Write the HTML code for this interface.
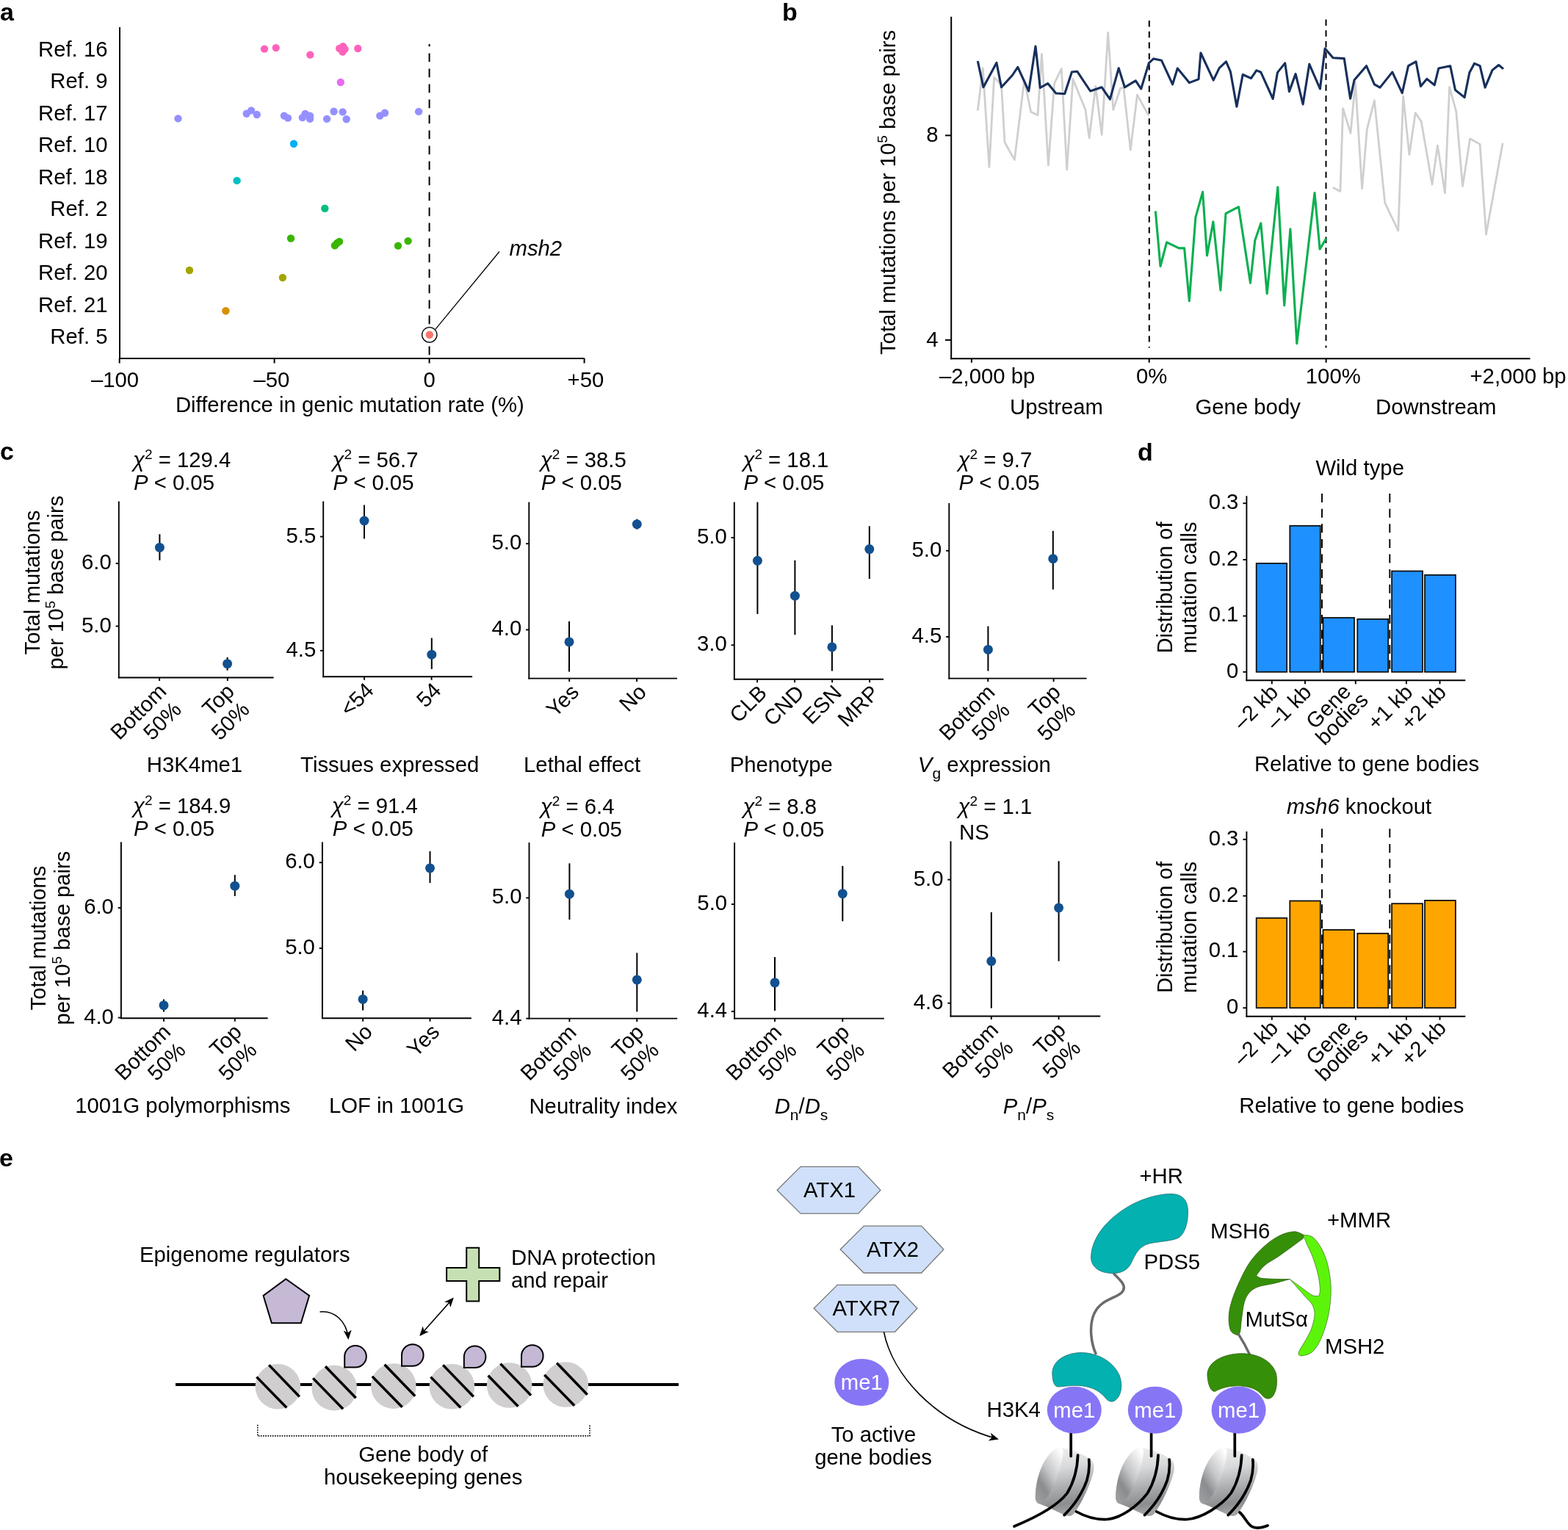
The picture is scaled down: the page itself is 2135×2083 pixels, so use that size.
<!DOCTYPE html>
<html><head><meta charset="utf-8"><title>Figure</title>
<style>
html,body{margin:0;padding:0;background:#fff;}
svg{display:block;}
text{font-family:"Liberation Sans",sans-serif;font-size:29.3px;fill:#000;}
text.pl{font-weight:bold;font-size:34px;}
</style></head>
<body>
<svg width="2135" height="2083" viewBox="0 0 2135 2083">
<rect width="2135" height="2083" fill="#fff"/>
<text x="0" y="28" class="pl">a</text>
<text x="1065" y="28" class="pl">b</text>
<text x="0" y="626" class="pl">c</text>
<text x="1549" y="627" class="pl">d</text>
<text x="-1" y="1588" class="pl">e</text>
<line x1="163" y1="37" x2="163" y2="489" stroke="#000" stroke-width="2.0" />
<line x1="162" y1="488" x2="795.8" y2="488" stroke="#000" stroke-width="2.0" />
<line x1="162.7" y1="488" x2="162.7" y2="494.5" stroke="#000" stroke-width="2.0" />
<line x1="373.6" y1="488" x2="373.6" y2="494.5" stroke="#000" stroke-width="2.0" />
<line x1="584.6" y1="488" x2="584.6" y2="494.5" stroke="#000" stroke-width="2.0" />
<line x1="795.6" y1="488" x2="795.6" y2="494.5" stroke="#000" stroke-width="2.0" />
<text x="156.5" y="527.3" text-anchor="middle" >&#8211;100</text>
<text x="369.8" y="527.3" text-anchor="middle" >&#8211;50</text>
<text x="584.6" y="527.3" text-anchor="middle" >0</text>
<text x="797.4" y="527.3" text-anchor="middle" >+50</text>
<text x="476.4" y="560.8" text-anchor="middle" >Difference in genic mutation rate (%)</text>
<line x1="584.6" y1="60" x2="584.6" y2="488" stroke="#000" stroke-width="2.0" stroke-dasharray="11.8,9.2" stroke-dashoffset="8.5"/>
<text x="146.5" y="76.6" text-anchor="end" >Ref. 16</text>
<text x="146.5" y="120.1" text-anchor="end" >Ref. 9</text>
<text x="146.5" y="163.7" text-anchor="end" >Ref. 17</text>
<text x="146.5" y="207.2" text-anchor="end" >Ref. 10</text>
<text x="146.5" y="250.7" text-anchor="end" >Ref. 18</text>
<text x="146.5" y="294.2" text-anchor="end" >Ref. 2</text>
<text x="146.5" y="337.8" text-anchor="end" >Ref. 19</text>
<text x="146.5" y="381.3" text-anchor="end" >Ref. 20</text>
<text x="146.5" y="424.8" text-anchor="end" >Ref. 21</text>
<text x="146.5" y="468.4" text-anchor="end" >Ref. 5</text>
<circle cx="584.8" cy="455.8" r="10.2" fill="#fff" stroke="#000" stroke-width="1.3"/>
<circle cx="360" cy="66.6" r="5.2" fill="#FF62BC" />
<circle cx="375.7" cy="65.1" r="5.2" fill="#FF62BC" />
<circle cx="422.3" cy="74.6" r="5.2" fill="#FF62BC" />
<circle cx="462.2" cy="66" r="5.2" fill="#FF62BC" />
<circle cx="467.1" cy="63.2" r="5.2" fill="#FF62BC" />
<circle cx="469.5" cy="66.9" r="5.2" fill="#FF62BC" />
<circle cx="466.5" cy="70.6" r="5.2" fill="#FF62BC" />
<circle cx="487.3" cy="66" r="5.2" fill="#FF62BC" />
<circle cx="463.8" cy="112" r="5.2" fill="#E76BF3" />
<circle cx="242.5" cy="161.4" r="5.2" fill="#9590FF" />
<circle cx="335.7" cy="154.7" r="5.2" fill="#9590FF" />
<circle cx="342.1" cy="150.4" r="5.2" fill="#9590FF" />
<circle cx="349.8" cy="156" r="5.2" fill="#9590FF" />
<circle cx="386.9" cy="157.6" r="5.2" fill="#9590FF" />
<circle cx="392" cy="160.6" r="5.2" fill="#9590FF" />
<circle cx="411.8" cy="160.1" r="5.2" fill="#9590FF" />
<circle cx="415.6" cy="155" r="5.2" fill="#9590FF" />
<circle cx="422" cy="157.6" r="5.2" fill="#9590FF" />
<circle cx="422" cy="161.9" r="5.2" fill="#9590FF" />
<circle cx="445.1" cy="161.9" r="5.2" fill="#9590FF" />
<circle cx="454.6" cy="151.7" r="5.2" fill="#9590FF" />
<circle cx="466.6" cy="152.4" r="5.2" fill="#9590FF" />
<circle cx="471.7" cy="162.2" r="5.2" fill="#9590FF" />
<circle cx="517.3" cy="157.6" r="5.2" fill="#9590FF" />
<circle cx="524" cy="153.7" r="5.2" fill="#9590FF" />
<circle cx="570.1" cy="151.9" r="5.2" fill="#9590FF" />
<circle cx="400" cy="195.7" r="5.2" fill="#00B0F6" />
<circle cx="322.6" cy="245.9" r="5.2" fill="#00BFC4" />
<circle cx="442.3" cy="283.7" r="5.2" fill="#00BF7D" />
<circle cx="396" cy="324.5" r="5.2" fill="#39B600" />
<circle cx="455.9" cy="334.2" r="5.2" fill="#39B600" />
<circle cx="459" cy="331" r="5.2" fill="#39B600" />
<circle cx="462" cy="328.9" r="5.2" fill="#39B600" />
<circle cx="542" cy="334.6" r="5.2" fill="#39B600" />
<circle cx="555.6" cy="328.1" r="5.2" fill="#39B600" />
<circle cx="258" cy="368" r="5.2" fill="#A3A500" />
<circle cx="384.9" cy="378" r="5.2" fill="#A3A500" />
<circle cx="307.4" cy="423.2" r="5.2" fill="#D89000" />
<circle cx="584.8" cy="455.8" r="5.2" fill="#F8766D" />
<line x1="592.6" y1="448.6" x2="680" y2="342.5" stroke="#000" stroke-width="1.3" />
<text x="693.5" y="348" font-style="italic">msh2</text>
<line x1="1295.2" y1="22.8" x2="1295.2" y2="489.2" stroke="#000" stroke-width="2.0" />
<line x1="1294.2" y1="488.2" x2="2083.5" y2="488.2" stroke="#000" stroke-width="2.0" />
<line x1="1287" y1="184.4" x2="1295.2" y2="184.4" stroke="#000" stroke-width="2.0" />
<line x1="1287" y1="462.9" x2="1295.2" y2="462.9" stroke="#000" stroke-width="2.0" />
<text x="1277.5" y="193" text-anchor="end" >8</text>
<text x="1277.5" y="471.5" text-anchor="end" >4</text>
<line x1="1322.9" y1="488.2" x2="1322.9" y2="493.7" stroke="#000" stroke-width="2.0" />
<line x1="1564.7" y1="488.2" x2="1564.7" y2="493.7" stroke="#000" stroke-width="2.0" />
<line x1="1805.6" y1="488.2" x2="1805.6" y2="493.7" stroke="#000" stroke-width="2.0" />
<text x="1279" y="521.8" >&#8211;2,000 bp</text>
<text x="1547" y="521.8" >0%</text>
<text x="1777.8" y="521.8" >100%</text>
<text x="2001.5" y="521.8" >+2,000 bp</text>
<text x="1375" y="564.3" >Upstream</text>
<text x="1627.5" y="564.3" >Gene body</text>
<text x="1873" y="564.3" >Downstream</text>
<text transform="translate(1218.8,262.0) rotate(-90)" text-anchor="middle">Total mutations per 10<tspan font-size="19" dy="-11">5</tspan><tspan dy="11"> base pairs</tspan></text>
<line x1="1564.8" y1="28" x2="1564.8" y2="473.5" stroke="#000" stroke-width="2.0" stroke-dasharray="8.4,6.4"/>
<line x1="1805.5" y1="26.5" x2="1805.5" y2="473.5" stroke="#000" stroke-width="2.0" stroke-dasharray="8.4,6.4"/>
<polyline points="1331.3,150.7 1338.3,92.8 1346.9,227.3 1353.6,105.4 1363.5,115.1 1368,193.8 1381.4,217.6 1394.7,109.1 1403.7,152.2 1413,156.7 1418.5,73.5 1427.4,225 1435.6,113.6 1445.3,93.5 1452.7,231 1460.9,107.7 1477.9,149.3 1483.1,187.9 1491.8,117.3 1500.2,183.4 1508.7,44.5 1515.8,149.3 1525.5,120.3 1529.9,118.8 1539.3,204.2 1548.5,129.2 1564.1,157.4" fill="none" stroke="#CFCFCF" stroke-width="2.8" stroke-linejoin="round" />
<polyline points="1814.8,255.2 1824.9,260.6 1828.6,147.7 1839,181.3 1845.4,111.6 1854.6,256.9 1861.3,176.2 1871.4,136.8 1885.7,276.2 1903.8,314 1910.6,130.9 1918.9,210.7 1927.2,153.6 1935.2,165.3 1950,251 1957.4,198.1 1967.5,262.8 1973.6,118.3 1982.8,151.9 1991.5,253.5 2001.6,188.8 2015.1,196.4 2023.5,319.1 2046.1,194.7" fill="none" stroke="#CFCFCF" stroke-width="2.8" stroke-linejoin="round" />
<polyline points="1331.3,83.1 1339,118.8 1356.9,85.4 1363.5,118.8 1378.4,102.5 1385.8,91.3 1400.7,124 1410,63.1 1416.3,119.5 1426.7,113.6 1437.8,127 1449.7,127.7 1459.4,98 1466.8,97.3 1484.6,124 1500.2,118.8 1511.4,135.1 1523.2,92.8 1531.4,118.8 1546.3,109.9 1553.7,121 1564.3,85.9 1570.7,79.9 1581.6,82.3 1596.6,114.8 1603.3,93 1619.3,112.6 1632,107.9 1634.9,72 1652.2,109.2 1660.2,92.6 1669.5,83.9 1675.5,97.9 1683.9,145.2 1692.2,101.5 1703.5,106.6 1710.8,95.9 1716.8,98.3 1733.2,134.5 1739.5,98.6 1749.7,85.9 1755.4,124.6 1764.1,100.6 1774.1,141.9 1782.8,87.3 1797.4,121 1804.1,66 1815.1,78.8 1830.2,79.6 1838.6,134.2 1844,109 1860.5,89.7 1871.4,114.9 1879,119.1 1895.8,98.1 1909.2,126.7 1917.6,89.7 1928,83.8 1934.4,117.4 1942.8,107.4 1953.2,115.8 1958.8,93.1 1974.7,89.7 1981.5,122.5 1994.1,132.6 2000.8,99 2007.5,86.4 2015.1,89.7 2022.1,119.1 2031.9,95.6 2040.6,88.5 2047,93.9" fill="none" stroke="#172F5B" stroke-width="3.1" stroke-linejoin="round" />
<polyline points="1573.3,287.3 1580,362.5 1588.6,329.9 1605.3,337.9 1612.6,337.9 1619.3,409.8 1627.9,295.9 1637.6,261.3 1643.5,347.9 1651.9,301.9 1661.9,395.2 1669,290.6 1686.5,281.6 1702.5,385.2 1708.8,327.2 1716.8,303.9 1725.2,399.8 1739.8,254.7 1748.7,415.8 1756.9,311.9 1765.8,467.8 1790,262.6 1797.1,339.2 1805.7,324.6" fill="none" stroke="#0BAF50" stroke-width="3.1" stroke-linejoin="round" />
<line x1="161.8" y1="682.5" x2="161.8" y2="923.4" stroke="#000" stroke-width="1.9" />
<line x1="160.9" y1="922.5" x2="372.6" y2="922.5" stroke="#000" stroke-width="1.9" />
<line x1="157.6" y1="767.1" x2="161.8" y2="767.1" stroke="#000" stroke-width="1.9" />
<text x="151.8" y="775.1" text-anchor="end" >6.0</text>
<line x1="157.6" y1="852.5" x2="161.8" y2="852.5" stroke="#000" stroke-width="1.9" />
<text x="151.8" y="860.5" text-anchor="end" >5.0</text>
<line x1="217.1" y1="922.5" x2="217.1" y2="927" stroke="#000" stroke-width="1.9" />
<line x1="309.8" y1="922.5" x2="309.8" y2="927" stroke="#000" stroke-width="1.9" />
<line x1="217.4" y1="727.3" x2="217.4" y2="762.8" stroke="#000" stroke-width="2.0" />
<circle cx="217.4" cy="745.4" r="6.5" fill="#12508F" />
<line x1="309.6" y1="894.8" x2="309.6" y2="912.7" stroke="#000" stroke-width="2.0" />
<circle cx="309.6" cy="903.7" r="6.5" fill="#12508F" />
<text transform="translate(228.2,943.1) rotate(-45)" text-anchor="end">Bottom</text>
<text transform="translate(248.6,967.8) rotate(-45)" text-anchor="end">50%</text>
<text transform="translate(320.9,943.1) rotate(-45)" text-anchor="end">Top</text>
<text transform="translate(341.3,967.8) rotate(-45)" text-anchor="end">50%</text>
<text x="181" y="636.3"><tspan font-style="italic">&#967;</tspan><tspan font-size="19" dy="-11">2</tspan><tspan dy="11"> = 129.4</tspan></text>
<text x="182" y="666.6"><tspan font-style="italic">P</tspan> &lt; 0.05</text>
<text x="265" y="1050.7" text-anchor="middle">H3K4me1</text>
<line x1="440.2" y1="682.5" x2="440.2" y2="922.2" stroke="#000" stroke-width="1.9" />
<line x1="439.3" y1="921.3" x2="643.1" y2="921.3" stroke="#000" stroke-width="1.9" />
<line x1="436" y1="730.6" x2="440.2" y2="730.6" stroke="#000" stroke-width="1.9" />
<text x="430.2" y="738.6" text-anchor="end" >5.5</text>
<line x1="436" y1="885.8" x2="440.2" y2="885.8" stroke="#000" stroke-width="1.9" />
<text x="430.2" y="893.8" text-anchor="end" >4.5</text>
<line x1="496" y1="921.3" x2="496" y2="925.8" stroke="#000" stroke-width="1.9" />
<line x1="587.6" y1="921.3" x2="587.6" y2="925.8" stroke="#000" stroke-width="1.9" />
<line x1="496" y1="687.5" x2="496" y2="733.4" stroke="#000" stroke-width="2.0" />
<circle cx="496" cy="709" r="6.5" fill="#12508F" />
<line x1="587.8" y1="868.6" x2="587.8" y2="910.9" stroke="#000" stroke-width="2.0" />
<circle cx="587.8" cy="891.2" r="6.5" fill="#12508F" />
<text transform="translate(510.6,941.7) rotate(-45)" text-anchor="end">&lt;54</text>
<text transform="translate(602.2,941.7) rotate(-45)" text-anchor="end">54</text>
<text x="452.5" y="636.3"><tspan font-style="italic">&#967;</tspan><tspan font-size="19" dy="-11">2</tspan><tspan dy="11"> = 56.7</tspan></text>
<text x="453.5" y="666.6"><tspan font-style="italic">P</tspan> &lt; 0.05</text>
<text x="530.7" y="1050.7" text-anchor="middle">Tissues expressed</text>
<line x1="720.3" y1="683.6" x2="720.3" y2="924.5" stroke="#000" stroke-width="1.9" />
<line x1="719.4" y1="923.6" x2="922" y2="923.6" stroke="#000" stroke-width="1.9" />
<line x1="716.1" y1="740.2" x2="720.3" y2="740.2" stroke="#000" stroke-width="1.9" />
<text x="710.3" y="748.2" text-anchor="end" >5.0</text>
<line x1="716.1" y1="857.4" x2="720.3" y2="857.4" stroke="#000" stroke-width="1.9" />
<text x="710.3" y="865.4" text-anchor="end" >4.0</text>
<line x1="775.2" y1="923.6" x2="775.2" y2="928.1" stroke="#000" stroke-width="1.9" />
<line x1="867.1" y1="923.6" x2="867.1" y2="928.1" stroke="#000" stroke-width="1.9" />
<line x1="775" y1="846" x2="775" y2="914.4" stroke="#000" stroke-width="2.0" />
<circle cx="775" cy="873.9" r="6.5" fill="#12508F" />
<line x1="867.3" y1="706.7" x2="867.3" y2="720.6" stroke="#000" stroke-width="2.0" />
<circle cx="867.3" cy="713.7" r="6.5" fill="#12508F" />
<text transform="translate(789.8,944) rotate(-45)" text-anchor="end">Yes</text>
<text transform="translate(881.7,944) rotate(-45)" text-anchor="end">No</text>
<text x="735.8" y="636.3"><tspan font-style="italic">&#967;</tspan><tspan font-size="19" dy="-11">2</tspan><tspan dy="11"> = 38.5</tspan></text>
<text x="736.8" y="666.6"><tspan font-style="italic">P</tspan> &lt; 0.05</text>
<text x="792.6" y="1050.7" text-anchor="middle">Lethal effect</text>
<line x1="999.8" y1="683.6" x2="999.8" y2="925.6" stroke="#000" stroke-width="1.9" />
<line x1="998.9" y1="924.7" x2="1203" y2="924.7" stroke="#000" stroke-width="1.9" />
<line x1="995.6" y1="732" x2="999.8" y2="732" stroke="#000" stroke-width="1.9" />
<text x="989.8" y="740" text-anchor="end" >5.0</text>
<line x1="995.6" y1="878.3" x2="999.8" y2="878.3" stroke="#000" stroke-width="1.9" />
<text x="989.8" y="886.3" text-anchor="end" >3.0</text>
<line x1="1031.1" y1="924.7" x2="1031.1" y2="929.2" stroke="#000" stroke-width="1.9" />
<line x1="1082.1" y1="924.7" x2="1082.1" y2="929.2" stroke="#000" stroke-width="1.9" />
<line x1="1133.1" y1="924.7" x2="1133.1" y2="929.2" stroke="#000" stroke-width="1.9" />
<line x1="1184.1" y1="924.7" x2="1184.1" y2="929.2" stroke="#000" stroke-width="1.9" />
<line x1="1031.4" y1="683.6" x2="1031.4" y2="836" stroke="#000" stroke-width="2.0" />
<circle cx="1031.4" cy="763.3" r="6.5" fill="#12508F" />
<line x1="1082.4" y1="762.9" x2="1082.4" y2="864.3" stroke="#000" stroke-width="2.0" />
<circle cx="1082.4" cy="811.2" r="6.5" fill="#12508F" />
<line x1="1132.9" y1="851.3" x2="1132.9" y2="913.5" stroke="#000" stroke-width="2.0" />
<circle cx="1132.9" cy="880.9" r="6.5" fill="#12508F" />
<line x1="1183.8" y1="716.3" x2="1183.8" y2="788.1" stroke="#000" stroke-width="2.0" />
<circle cx="1183.8" cy="747.6" r="6.5" fill="#12508F" />
<text transform="translate(1045.7,945.1) rotate(-45)" text-anchor="end">CLB</text>
<text transform="translate(1096.7,945.1) rotate(-45)" text-anchor="end">CND</text>
<text transform="translate(1147.7,945.1) rotate(-45)" text-anchor="end">ESN</text>
<text transform="translate(1198.7,945.1) rotate(-45)" text-anchor="end">MRP</text>
<text x="1011.4" y="636.3"><tspan font-style="italic">&#967;</tspan><tspan font-size="19" dy="-11">2</tspan><tspan dy="11"> = 18.1</tspan></text>
<text x="1012.4" y="666.6"><tspan font-style="italic">P</tspan> &lt; 0.05</text>
<text x="1063.7" y="1050.7" text-anchor="middle">Phenotype</text>
<line x1="1292.3" y1="685" x2="1292.3" y2="924.5" stroke="#000" stroke-width="1.9" />
<line x1="1291.4" y1="923.6" x2="1479.6" y2="923.6" stroke="#000" stroke-width="1.9" />
<line x1="1288.1" y1="749.8" x2="1292.3" y2="749.8" stroke="#000" stroke-width="1.9" />
<text x="1282.3" y="757.8" text-anchor="end" >5.0</text>
<line x1="1288.1" y1="867" x2="1292.3" y2="867" stroke="#000" stroke-width="1.9" />
<text x="1282.3" y="875" text-anchor="end" >4.5</text>
<line x1="1345.2" y1="923.6" x2="1345.2" y2="928.1" stroke="#000" stroke-width="1.9" />
<line x1="1434.6" y1="923.6" x2="1434.6" y2="928.1" stroke="#000" stroke-width="1.9" />
<line x1="1345.4" y1="852.6" x2="1345.4" y2="913.5" stroke="#000" stroke-width="2.0" />
<circle cx="1345.4" cy="884.4" r="6.5" fill="#12508F" />
<line x1="1433.8" y1="722.8" x2="1433.8" y2="802.5" stroke="#000" stroke-width="2.0" />
<circle cx="1433.8" cy="760.7" r="6.5" fill="#12508F" />
<text transform="translate(1356.3,944.2) rotate(-45)" text-anchor="end">Bottom</text>
<text transform="translate(1376.7,968.9) rotate(-45)" text-anchor="end">50%</text>
<text transform="translate(1445.7,944.2) rotate(-45)" text-anchor="end">Top</text>
<text transform="translate(1466.1,968.9) rotate(-45)" text-anchor="end">50%</text>
<text x="1304.5" y="636.3"><tspan font-style="italic">&#967;</tspan><tspan font-size="19" dy="-11">2</tspan><tspan dy="11"> = 9.7</tspan></text>
<text x="1305.5" y="666.6"><tspan font-style="italic">P</tspan> &lt; 0.05</text>
<text x="1340.4" y="1050.7" text-anchor="middle"><tspan font-style="italic">V</tspan><tspan font-size="21" dy="9">g</tspan><tspan dy="-9"> expression</tspan></text>
<line x1="164.9" y1="1146.4" x2="164.9" y2="1387.1" stroke="#000" stroke-width="1.9" />
<line x1="164" y1="1386.2" x2="364.6" y2="1386.2" stroke="#000" stroke-width="1.9" />
<line x1="160.7" y1="1236" x2="164.9" y2="1236" stroke="#000" stroke-width="1.9" />
<text x="154.9" y="1244" text-anchor="end" >6.0</text>
<line x1="160.7" y1="1385.5" x2="164.9" y2="1385.5" stroke="#000" stroke-width="1.9" />
<text x="154.9" y="1393.5" text-anchor="end" >4.0</text>
<line x1="223" y1="1386.2" x2="223" y2="1390.7" stroke="#000" stroke-width="1.9" />
<line x1="319.8" y1="1386.2" x2="319.8" y2="1390.7" stroke="#000" stroke-width="1.9" />
<line x1="223" y1="1360.4" x2="223" y2="1377.6" stroke="#000" stroke-width="2.0" />
<circle cx="223" cy="1368.7" r="6.5" fill="#12508F" />
<line x1="319.8" y1="1191.2" x2="319.8" y2="1219.9" stroke="#000" stroke-width="2.0" />
<circle cx="319.8" cy="1206.2" r="6.5" fill="#12508F" />
<text transform="translate(234.1,1406.8) rotate(-45)" text-anchor="end">Bottom</text>
<text transform="translate(254.5,1431.5) rotate(-45)" text-anchor="end">50%</text>
<text transform="translate(330.9,1406.8) rotate(-45)" text-anchor="end">Top</text>
<text transform="translate(351.3,1431.5) rotate(-45)" text-anchor="end">50%</text>
<text x="181" y="1106.9"><tspan font-style="italic">&#967;</tspan><tspan font-size="19" dy="-11">2</tspan><tspan dy="11"> = 184.9</tspan></text>
<text x="182" y="1138.1"><tspan font-style="italic">P</tspan> &lt; 0.05</text>
<text x="248.8" y="1514.6" text-anchor="middle">1001G polymorphisms</text>
<line x1="438.9" y1="1146.4" x2="438.9" y2="1387.1" stroke="#000" stroke-width="1.9" />
<line x1="438" y1="1386.2" x2="641.8" y2="1386.2" stroke="#000" stroke-width="1.9" />
<line x1="434.7" y1="1174.3" x2="438.9" y2="1174.3" stroke="#000" stroke-width="1.9" />
<text x="428.9" y="1182.3" text-anchor="end" >6.0</text>
<line x1="434.7" y1="1290.9" x2="438.9" y2="1290.9" stroke="#000" stroke-width="1.9" />
<text x="428.9" y="1298.9" text-anchor="end" >5.0</text>
<line x1="494.1" y1="1386.2" x2="494.1" y2="1390.7" stroke="#000" stroke-width="1.9" />
<line x1="585.5" y1="1386.2" x2="585.5" y2="1390.7" stroke="#000" stroke-width="1.9" />
<line x1="494.1" y1="1348.6" x2="494.1" y2="1375.5" stroke="#000" stroke-width="2.0" />
<circle cx="494.1" cy="1360.4" r="6.5" fill="#12508F" />
<line x1="585.5" y1="1158.9" x2="585.5" y2="1202" stroke="#000" stroke-width="2.0" />
<circle cx="585.5" cy="1181.9" r="6.5" fill="#12508F" />
<text transform="translate(508.7,1406.6) rotate(-45)" text-anchor="end">No</text>
<text transform="translate(600.1,1406.6) rotate(-45)" text-anchor="end">Yes</text>
<text x="451.8" y="1106.9"><tspan font-style="italic">&#967;</tspan><tspan font-size="19" dy="-11">2</tspan><tspan dy="11"> = 91.4</tspan></text>
<text x="452.8" y="1138.1"><tspan font-style="italic">P</tspan> &lt; 0.05</text>
<text x="540" y="1514.6" text-anchor="middle">LOF in 1001G</text>
<line x1="720.5" y1="1147.1" x2="720.5" y2="1387.5" stroke="#000" stroke-width="1.9" />
<line x1="719.6" y1="1386.6" x2="922.2" y2="1386.6" stroke="#000" stroke-width="1.9" />
<line x1="716.3" y1="1222.4" x2="720.5" y2="1222.4" stroke="#000" stroke-width="1.9" />
<text x="710.5" y="1230.4" text-anchor="end" >5.0</text>
<line x1="716.3" y1="1386.6" x2="720.5" y2="1386.6" stroke="#000" stroke-width="1.9" />
<text x="710.5" y="1394.6" text-anchor="end" >4.4</text>
<line x1="775.4" y1="1386.6" x2="775.4" y2="1391.1" stroke="#000" stroke-width="1.9" />
<line x1="867.3" y1="1386.6" x2="867.3" y2="1391.1" stroke="#000" stroke-width="1.9" />
<line x1="775.4" y1="1175.4" x2="775.4" y2="1252" stroke="#000" stroke-width="2.0" />
<circle cx="775.4" cy="1217.2" r="6.5" fill="#12508F" />
<line x1="867.3" y1="1297.3" x2="867.3" y2="1377.4" stroke="#000" stroke-width="2.0" />
<circle cx="867.3" cy="1333.9" r="6.5" fill="#12508F" />
<text transform="translate(786.5,1407.2) rotate(-45)" text-anchor="end">Bottom</text>
<text transform="translate(806.9,1431.9) rotate(-45)" text-anchor="end">50%</text>
<text transform="translate(878.4,1407.2) rotate(-45)" text-anchor="end">Top</text>
<text transform="translate(898.8,1431.9) rotate(-45)" text-anchor="end">50%</text>
<text x="735.8" y="1108.3"><tspan font-style="italic">&#967;</tspan><tspan font-size="19" dy="-11">2</tspan><tspan dy="11"> = 6.4</tspan></text>
<text x="736.8" y="1138.8"><tspan font-style="italic">P</tspan> &lt; 0.05</text>
<text x="821.4" y="1516.3" text-anchor="middle">Neutrality index</text>
<line x1="1000.1" y1="1147.1" x2="1000.1" y2="1387.5" stroke="#000" stroke-width="1.9" />
<line x1="999.2" y1="1386.6" x2="1203.9" y2="1386.6" stroke="#000" stroke-width="1.9" />
<line x1="995.9" y1="1231.1" x2="1000.1" y2="1231.1" stroke="#000" stroke-width="1.9" />
<text x="990.1" y="1239.1" text-anchor="end" >5.0</text>
<line x1="995.9" y1="1377" x2="1000.1" y2="1377" stroke="#000" stroke-width="1.9" />
<text x="990.1" y="1385" text-anchor="end" >4.4</text>
<line x1="1055" y1="1386.6" x2="1055" y2="1391.1" stroke="#000" stroke-width="1.9" />
<line x1="1147.3" y1="1386.6" x2="1147.3" y2="1391.1" stroke="#000" stroke-width="1.9" />
<line x1="1055" y1="1303" x2="1055" y2="1376.1" stroke="#000" stroke-width="2.0" />
<circle cx="1055" cy="1337.8" r="6.5" fill="#12508F" />
<line x1="1147.3" y1="1178.9" x2="1147.3" y2="1254.2" stroke="#000" stroke-width="2.0" />
<circle cx="1147.3" cy="1216.7" r="6.5" fill="#12508F" />
<text transform="translate(1066.1,1407.2) rotate(-45)" text-anchor="end">Bottom</text>
<text transform="translate(1086.5,1431.9) rotate(-45)" text-anchor="end">50%</text>
<text transform="translate(1158.4,1407.2) rotate(-45)" text-anchor="end">Top</text>
<text transform="translate(1178.8,1431.9) rotate(-45)" text-anchor="end">50%</text>
<text x="1011.4" y="1108.3"><tspan font-style="italic">&#967;</tspan><tspan font-size="19" dy="-11">2</tspan><tspan dy="11"> = 8.8</tspan></text>
<text x="1012.4" y="1138.8"><tspan font-style="italic">P</tspan> &lt; 0.05</text>
<text x="1091" y="1516.3" text-anchor="middle"><tspan font-style="italic">D</tspan><tspan font-size="21" dy="9">n</tspan><tspan dy="-9">/</tspan><tspan font-style="italic">D</tspan><tspan font-size="21" dy="9">s</tspan></text>
<line x1="1294.5" y1="1145.3" x2="1294.5" y2="1384.4" stroke="#000" stroke-width="1.9" />
<line x1="1293.6" y1="1383.5" x2="1498.3" y2="1383.5" stroke="#000" stroke-width="1.9" />
<line x1="1290.3" y1="1197.6" x2="1294.5" y2="1197.6" stroke="#000" stroke-width="1.9" />
<text x="1284.5" y="1205.6" text-anchor="end" >5.0</text>
<line x1="1290.3" y1="1365.7" x2="1294.5" y2="1365.7" stroke="#000" stroke-width="1.9" />
<text x="1284.5" y="1373.7" text-anchor="end" >4.6</text>
<line x1="1349.8" y1="1383.5" x2="1349.8" y2="1388" stroke="#000" stroke-width="1.9" />
<line x1="1441.6" y1="1383.5" x2="1441.6" y2="1388" stroke="#000" stroke-width="1.9" />
<line x1="1349.8" y1="1242" x2="1349.8" y2="1372.6" stroke="#000" stroke-width="2.0" />
<circle cx="1349.8" cy="1308.6" r="6.5" fill="#12508F" />
<line x1="1441.6" y1="1172.3" x2="1441.6" y2="1308.6" stroke="#000" stroke-width="2.0" />
<circle cx="1441.6" cy="1235.9" r="6.5" fill="#12508F" />
<text transform="translate(1360.9,1404.1) rotate(-45)" text-anchor="end">Bottom</text>
<text transform="translate(1381.3,1428.8) rotate(-45)" text-anchor="end">50%</text>
<text transform="translate(1452.7,1404.1) rotate(-45)" text-anchor="end">Top</text>
<text transform="translate(1473.1,1428.8) rotate(-45)" text-anchor="end">50%</text>
<text x="1304.5" y="1108.3"><tspan font-style="italic">&#967;</tspan><tspan font-size="19" dy="-11">2</tspan><tspan dy="11"> = 1.1</tspan></text>
<text x="1306" y="1143.3">NS</text>
<text x="1400.5" y="1516.3" text-anchor="middle"><tspan font-style="italic">P</tspan><tspan font-size="21" dy="9">n</tspan><tspan dy="-9">/</tspan><tspan font-style="italic">P</tspan><tspan font-size="21" dy="9">s</tspan></text>
<text transform="translate(53.5,793) rotate(-90)" text-anchor="middle"><tspan x="0" dy="0">Total mutations</tspan><tspan x="0" dy="32.5">per 10<tspan font-size="19" dy="-11">5</tspan><tspan dy="11"> base pairs</tspan></tspan></text>
<text transform="translate(62.3,1277) rotate(-90)" text-anchor="middle"><tspan x="0" dy="0">Total mutations</tspan><tspan x="0" dy="32.5">per 10<tspan font-size="19" dy="-11">5</tspan><tspan dy="11"> base pairs</tspan></tspan></text>
<line x1="1697.4" y1="675.2" x2="1697.4" y2="927.2" stroke="#000" stroke-width="1.9" />
<line x1="1696.5" y1="926.3" x2="1995.3" y2="926.3" stroke="#000" stroke-width="1.9" />
<line x1="1692.4" y1="685.2" x2="1697.4" y2="685.2" stroke="#000" stroke-width="1.9" />
<text x="1686.4" y="693" text-anchor="end" >0.3</text>
<line x1="1692.4" y1="762" x2="1697.4" y2="762" stroke="#000" stroke-width="1.9" />
<text x="1686.4" y="769.8" text-anchor="end" >0.2</text>
<line x1="1692.4" y1="838.6" x2="1697.4" y2="838.6" stroke="#000" stroke-width="1.9" />
<text x="1686.4" y="846.4" text-anchor="end" >0.1</text>
<line x1="1692.4" y1="914.8" x2="1697.4" y2="914.8" stroke="#000" stroke-width="1.9" />
<text x="1686.4" y="922.6" text-anchor="end" >0</text>
<rect x="1710.7" y="767" width="41.5" height="147.8" fill="#1E90FF" stroke="#111" stroke-width="1.8"/>
<rect x="1756.3" y="715.8" width="41.5" height="199" fill="#1E90FF" stroke="#111" stroke-width="1.8"/>
<rect x="1801.5" y="841" width="42.5" height="73.8" fill="#1E90FF" stroke="#111" stroke-width="1.8"/>
<rect x="1848.3" y="842.9" width="41.9" height="71.9" fill="#1E90FF" stroke="#111" stroke-width="1.8"/>
<rect x="1895.1" y="777.5" width="41.9" height="137.3" fill="#1E90FF" stroke="#111" stroke-width="1.8"/>
<rect x="1940" y="782.8" width="41.9" height="132" fill="#1E90FF" stroke="#111" stroke-width="1.8"/>
<line x1="1800" y1="672.1" x2="1800" y2="914.8" stroke="#000" stroke-width="1.9" stroke-dasharray="12,8.6"/>
<line x1="1892.3" y1="672.1" x2="1892.3" y2="914.8" stroke="#000" stroke-width="1.9" stroke-dasharray="12,8.6"/>
<line x1="1731.8" y1="926.3" x2="1731.8" y2="931.3" stroke="#000" stroke-width="1.9" />
<line x1="1777" y1="926.3" x2="1777" y2="931.3" stroke="#000" stroke-width="1.9" />
<line x1="1845.8" y1="926.3" x2="1845.8" y2="931.3" stroke="#000" stroke-width="1.9" />
<line x1="1914.9" y1="926.3" x2="1914.9" y2="931.3" stroke="#000" stroke-width="1.9" />
<line x1="1960.5" y1="926.3" x2="1960.5" y2="931.3" stroke="#000" stroke-width="1.9" />
<text transform="translate(1742.1,944.2) rotate(-45)" text-anchor="end">&#8211;2 kb</text>
<text transform="translate(1787.3,944.2) rotate(-45)" text-anchor="end">&#8211;1 kb</text>
<text transform="translate(1925.2,944.2) rotate(-45)" text-anchor="end">+1 kb</text>
<text transform="translate(1970.8,944.2) rotate(-45)" text-anchor="end">+2 kb</text>
<text transform="translate(1841,943.3) rotate(-45)" text-anchor="end">Gene</text>
<text transform="translate(1864.5,955) rotate(-45)" text-anchor="end">bodies</text>
<text x="1851.7" y="647.3" text-anchor="middle" >Wild type</text>
<text x="1861" y="1050.3" text-anchor="middle" >Relative to gene bodies</text>
<line x1="1697.4" y1="1132" x2="1697.4" y2="1384.6" stroke="#000" stroke-width="1.9" />
<line x1="1696.5" y1="1383.7" x2="1995.3" y2="1383.7" stroke="#000" stroke-width="1.9" />
<line x1="1692.4" y1="1142.8" x2="1697.4" y2="1142.8" stroke="#000" stroke-width="1.9" />
<text x="1686.4" y="1150.6" text-anchor="end" >0.3</text>
<line x1="1692.4" y1="1219.7" x2="1697.4" y2="1219.7" stroke="#000" stroke-width="1.9" />
<text x="1686.4" y="1227.5" text-anchor="end" >0.2</text>
<line x1="1692.4" y1="1295.6" x2="1697.4" y2="1295.6" stroke="#000" stroke-width="1.9" />
<text x="1686.4" y="1303.4" text-anchor="end" >0.1</text>
<line x1="1692.4" y1="1372.2" x2="1697.4" y2="1372.2" stroke="#000" stroke-width="1.9" />
<text x="1686.4" y="1380" text-anchor="end" >0</text>
<rect x="1710.7" y="1249.8" width="41.5" height="122.4" fill="#FFA500" stroke="#111" stroke-width="1.8"/>
<rect x="1756.3" y="1226.5" width="41.5" height="145.7" fill="#FFA500" stroke="#111" stroke-width="1.8"/>
<rect x="1801.5" y="1265.9" width="42.5" height="106.3" fill="#FFA500" stroke="#111" stroke-width="1.8"/>
<rect x="1848.3" y="1270.8" width="41.9" height="101.4" fill="#FFA500" stroke="#111" stroke-width="1.8"/>
<rect x="1895.1" y="1230.2" width="41.9" height="142" fill="#FFA500" stroke="#111" stroke-width="1.8"/>
<rect x="1940" y="1225.9" width="41.9" height="146.3" fill="#FFA500" stroke="#111" stroke-width="1.8"/>
<line x1="1800" y1="1128.3" x2="1800" y2="1372.2" stroke="#000" stroke-width="1.9" stroke-dasharray="12,8.6"/>
<line x1="1892.3" y1="1128.3" x2="1892.3" y2="1372.2" stroke="#000" stroke-width="1.9" stroke-dasharray="12,8.6"/>
<line x1="1731.8" y1="1383.7" x2="1731.8" y2="1388.7" stroke="#000" stroke-width="1.9" />
<line x1="1777" y1="1383.7" x2="1777" y2="1388.7" stroke="#000" stroke-width="1.9" />
<line x1="1845.8" y1="1383.7" x2="1845.8" y2="1388.7" stroke="#000" stroke-width="1.9" />
<line x1="1914.9" y1="1383.7" x2="1914.9" y2="1388.7" stroke="#000" stroke-width="1.9" />
<line x1="1960.5" y1="1383.7" x2="1960.5" y2="1388.7" stroke="#000" stroke-width="1.9" />
<text transform="translate(1742.1,1401.6) rotate(-45)" text-anchor="end">&#8211;2 kb</text>
<text transform="translate(1787.3,1401.6) rotate(-45)" text-anchor="end">&#8211;1 kb</text>
<text transform="translate(1925.2,1401.6) rotate(-45)" text-anchor="end">+1 kb</text>
<text transform="translate(1970.8,1401.6) rotate(-45)" text-anchor="end">+2 kb</text>
<text transform="translate(1841,1400.7) rotate(-45)" text-anchor="end">Gene</text>
<text transform="translate(1864.5,1412.4) rotate(-45)" text-anchor="end">bodies</text>
<text x="1850.6" y="1107.8" text-anchor="middle"><tspan font-style="italic">msh6</tspan> knockout</text>
<text x="1840.4" y="1514.8" text-anchor="middle" >Relative to gene bodies</text>
<text transform="translate(1596,800) rotate(-90)" text-anchor="middle"><tspan x="0" dy="0">Distribution of</tspan><tspan x="0" dy="33">mutation calls</tspan></text>
<text transform="translate(1596,1262.5) rotate(-90)" text-anchor="middle"><tspan x="0" dy="0">Distribution of</tspan><tspan x="0" dy="33">mutation calls</tspan></text>
<line x1="239" y1="1885" x2="924" y2="1885" stroke="#000" stroke-width="3.8" />
<circle cx="378.4" cy="1887.8" r="30.8" fill="#D0CECF" />
<line x1="366.2" y1="1858.4" x2="407.8" y2="1901.5" stroke="#000" stroke-width="3.5" stroke-linecap="butt"/>
<line x1="349.4" y1="1874.6" x2="390.3" y2="1916.5" stroke="#000" stroke-width="3.5" stroke-linecap="butt"/>
<circle cx="455.2" cy="1889.6" r="30.8" fill="#D0CECF" />
<line x1="443" y1="1860.2" x2="484.6" y2="1903.3" stroke="#000" stroke-width="3.5" stroke-linecap="butt"/>
<line x1="426.2" y1="1876.4" x2="467.1" y2="1918.3" stroke="#000" stroke-width="3.5" stroke-linecap="butt"/>
<circle cx="535.8" cy="1887.1" r="30.8" fill="#D0CECF" />
<line x1="523.6" y1="1857.7" x2="565.2" y2="1900.8" stroke="#000" stroke-width="3.5" stroke-linecap="butt"/>
<line x1="506.8" y1="1873.9" x2="547.7" y2="1915.8" stroke="#000" stroke-width="3.5" stroke-linecap="butt"/>
<circle cx="615.4" cy="1887.8" r="30.8" fill="#D0CECF" />
<line x1="603.2" y1="1858.4" x2="644.8" y2="1901.5" stroke="#000" stroke-width="3.5" stroke-linecap="butt"/>
<line x1="586.4" y1="1874.6" x2="627.3" y2="1916.5" stroke="#000" stroke-width="3.5" stroke-linecap="butt"/>
<circle cx="693.6" cy="1886" r="30.8" fill="#D0CECF" />
<line x1="681.4" y1="1856.6" x2="723" y2="1899.7" stroke="#000" stroke-width="3.5" stroke-linecap="butt"/>
<line x1="664.6" y1="1872.8" x2="705.5" y2="1914.7" stroke="#000" stroke-width="3.5" stroke-linecap="butt"/>
<circle cx="770.3" cy="1885" r="30.8" fill="#D0CECF" />
<line x1="758.1" y1="1855.6" x2="799.7" y2="1898.7" stroke="#000" stroke-width="3.5" stroke-linecap="butt"/>
<line x1="741.3" y1="1871.8" x2="782.2" y2="1913.7" stroke="#000" stroke-width="3.5" stroke-linecap="butt"/>
<path d="M469.2,1861.6 L469.2,1846.8 A14.8,14.8 0 1,1 484,1861.6 Z" fill="#C4B8D4" stroke="#000" stroke-width="2.0"/>
<path d="M547,1859.8 L547,1845 A14.8,14.8 0 1,1 561.8,1859.8 Z" fill="#C4B8D4" stroke="#000" stroke-width="2.0"/>
<path d="M631.8,1862.1 L631.8,1847.3 A14.8,14.8 0 1,1 646.6,1862.1 Z" fill="#C4B8D4" stroke="#000" stroke-width="2.0"/>
<path d="M710,1860.8 L710,1846 A14.8,14.8 0 1,1 724.8,1860.8 Z" fill="#C4B8D4" stroke="#000" stroke-width="2.0"/>
<polygon points="389.3,1741.3 421.1,1764.0 409.8,1801.3 369.9,1801.3 358.6,1764.0" fill="#C5B9D6" stroke="#000" stroke-width="2.0"/>
<path d="M635.2,1698.8 H652.2 V1726.0 H680.3 V1743.9 H652.2 V1771.6 H635.2 V1743.9 H608.1 V1726.0 H635.2 Z" fill="#C6E0B4" stroke="#000" stroke-width="2.0"/>
<defs><marker id="ah" markerWidth="14" markerHeight="12" refX="11" refY="6" orient="auto" markerUnits="userSpaceOnUse"><path d="M0,0.5 L13,6 L0,11.5 L3.5,6 Z" fill="#000"/></marker><marker id="ah2" markerWidth="14" markerHeight="12" refX="11" refY="6" orient="auto-start-reverse" markerUnits="userSpaceOnUse"><path d="M0,0.5 L13,6 L0,11.5 L3.5,6 Z" fill="#000"/></marker></defs>
<path d="M435.5,1786.0 C455,1784 472,1798 474.2,1822" fill="none" stroke="#000" stroke-width="1.6" marker-end="url(#ah)"/>
<path d="M572.5,1817.5 L616.5,1768" fill="none" stroke="#000" stroke-width="1.6" marker-start="url(#ah2)" marker-end="url(#ah2)"/>
<text x="190" y="1718" >Epigenome regulators</text>
<text x="696" y="1722" >DNA protection</text>
<text x="696" y="1752.7" >and repair</text>
<path d="M350.8,1939.8 L350.8,1954.9 L803,1954.9 L803,1939.8" fill="none" stroke="#000" stroke-width="1.6" stroke-dasharray="1.6,1.6"/>
<text x="576.3" y="1989.9" text-anchor="middle" >Gene body of</text>
<text x="576.1" y="2020.6" text-anchor="middle" >housekeeping genes</text>
<polygon points="1058.1,1620.2 1090.1,1588.3 1168.6,1588.3 1198.9,1620.2 1168.6,1652.2 1090.1,1652.2" fill="#D0E0FA" stroke="#777" stroke-width="1.3"/>
<text x="1129.5" y="1630" text-anchor="middle" font-size="28" >ATX1</text>
<polygon points="1144.2,1701 1176.2,1669.1 1254.6,1669.1 1284.9,1701 1254.6,1733 1176.2,1733" fill="#D0E0FA" stroke="#777" stroke-width="1.3"/>
<text x="1215.6" y="1710.8" text-anchor="middle" font-size="28" >ATX2</text>
<polygon points="1108.2,1781.3 1140.2,1749.3 1218.6,1749.3 1248.9,1781.3 1218.6,1813.3 1140.2,1813.3" fill="#D0E0FA" stroke="#777" stroke-width="1.3"/>
<text x="1179.6" y="1791.1" text-anchor="middle" font-size="28" >ATXR7</text>
<ellipse cx="1173.3" cy="1881.9" rx="37" ry="32" fill="#8676F6"/>
<text x="1173.3" y="1892.2" text-anchor="middle" style="fill:#fff">me1</text>
<path d="M1203.5,1813.5 C1215,1870 1270,1935 1358,1959" fill="none" stroke="#000" stroke-width="1.6" marker-end="url(#ah)"/>
<text x="1189.5" y="1963.4" text-anchor="middle" >To active</text>
<text x="1189" y="1993.6" text-anchor="middle" >gene bodies</text>
<text x="1343.5" y="1928.6" >H3K4</text>
<defs><linearGradient id="nb" x1="0" y1="0" x2="0.15" y2="1"><stop offset="0" stop-color="#f4f4f4"/><stop offset="0.35" stop-color="#d9dadb"/><stop offset="0.7" stop-color="#a3a4a6"/><stop offset="0.88" stop-color="#8c8d90"/><stop offset="1" stop-color="#a2a3a5"/></linearGradient><linearGradient id="nf" x1="0.85" y1="0" x2="0.1" y2="1"><stop offset="0" stop-color="#ffffff"/><stop offset="0.45" stop-color="#c4c5c7"/><stop offset="0.72" stop-color="#8b8c8f"/><stop offset="1" stop-color="#9fa0a2"/></linearGradient></defs>
<path transform="translate(0,0)" d="M1443,1971.1 C1458,1972 1475,1980 1486,1988 C1490,1991 1490.5,1999 1488,2007 C1483,2025 1472,2048 1462,2061 C1459,2064.5 1454,2065 1448,2062 L1424.6,2051 L1413,2046.5 C1410,2044 1409.5,2040 1409.8,2036 C1410.5,2020 1414,2003 1421.5,1990.7 C1428,1979 1436,1971.5 1443,1971.1 Z" fill="url(#nb)"/>
<path transform="translate(0,0)" d="M1443,1971.1 C1436,1972 1428,1980 1421.5,1990.7 C1414,2005 1410,2022 1409.8,2036.8 C1409.8,2042 1411,2045 1414,2047 L1417.5,2047.5 C1426,2040 1436,2024 1442,2003 C1446,1990 1448.5,1979 1447,1972.5 Z" fill="url(#nf)"/>
<line x1="1458.2" y1="1951.5" x2="1458.2" y2="1982.5" stroke="#000" stroke-width="3.7" stroke-linecap="round"/>
<path transform="translate(0,0)" d="M1449.2,2062.6 C1462,2050 1474,2032 1479.9,2015.3 C1483,2005 1483.5,1995 1482.7,1987" fill="none" stroke="#000" stroke-width="3.7" stroke-linecap="round"/>
<path transform="translate(109.4,0)" d="M1443,1971.1 C1458,1972 1475,1980 1486,1988 C1490,1991 1490.5,1999 1488,2007 C1483,2025 1472,2048 1462,2061 C1459,2064.5 1454,2065 1448,2062 L1424.6,2051 L1413,2046.5 C1410,2044 1409.5,2040 1409.8,2036 C1410.5,2020 1414,2003 1421.5,1990.7 C1428,1979 1436,1971.5 1443,1971.1 Z" fill="url(#nb)"/>
<path transform="translate(109.4,0)" d="M1443,1971.1 C1436,1972 1428,1980 1421.5,1990.7 C1414,2005 1410,2022 1409.8,2036.8 C1409.8,2042 1411,2045 1414,2047 L1417.5,2047.5 C1426,2040 1436,2024 1442,2003 C1446,1990 1448.5,1979 1447,1972.5 Z" fill="url(#nf)"/>
<line x1="1567.6" y1="1951.5" x2="1567.6" y2="1982.5" stroke="#000" stroke-width="3.7" stroke-linecap="round"/>
<path transform="translate(109.4,0)" d="M1449.2,2062.6 C1462,2050 1474,2032 1479.9,2015.3 C1483,2005 1483.5,1995 1482.7,1987" fill="none" stroke="#000" stroke-width="3.7" stroke-linecap="round"/>
<path transform="translate(223.1,0)" d="M1443,1971.1 C1458,1972 1475,1980 1486,1988 C1490,1991 1490.5,1999 1488,2007 C1483,2025 1472,2048 1462,2061 C1459,2064.5 1454,2065 1448,2062 L1424.6,2051 L1413,2046.5 C1410,2044 1409.5,2040 1409.8,2036 C1410.5,2020 1414,2003 1421.5,1990.7 C1428,1979 1436,1971.5 1443,1971.1 Z" fill="url(#nb)"/>
<path transform="translate(223.1,0)" d="M1443,1971.1 C1436,1972 1428,1980 1421.5,1990.7 C1414,2005 1410,2022 1409.8,2036.8 C1409.8,2042 1411,2045 1414,2047 L1417.5,2047.5 C1426,2040 1436,2024 1442,2003 C1446,1990 1448.5,1979 1447,1972.5 Z" fill="url(#nf)"/>
<line x1="1681.3" y1="1951.5" x2="1681.3" y2="1982.5" stroke="#000" stroke-width="3.7" stroke-linecap="round"/>
<path transform="translate(223.1,0)" d="M1449.2,2062.6 C1462,2050 1474,2032 1479.9,2015.3 C1483,2005 1483.5,1995 1482.7,1987" fill="none" stroke="#000" stroke-width="3.7" stroke-linecap="round"/>
<path d="M1381,2078 C1410,2066 1440,2050 1453,2033 C1462,2018 1467,2000 1467.6,1981" fill="none" stroke="#000" stroke-width="3.7" stroke-linecap="round"/>
<path d="M1465.5,2058 C1480,2066 1495,2069 1507,2068.5 C1527,2067 1549.4,2050 1562.4,2033 C1571.4,2018 1576.4,2000 1577,1981" fill="none" stroke="#000" stroke-width="3.7" stroke-linecap="round"/>
<path d="M1574.9,2058 C1589.4,2066 1604.4,2069 1616.4,2068.5 C1636.4,2067 1663.1,2050 1676.1,2033 C1685.1,2018 1690.1,2000 1690.7,1981" fill="none" stroke="#000" stroke-width="3.7" stroke-linecap="round"/>
<path d="M1688,2059 C1694,2064 1698,2074 1704,2078 C1710,2082 1718,2080 1726,2077" fill="none" stroke="#000" stroke-width="3.7" stroke-linecap="round"/>
<ellipse cx="1462.8" cy="1919.7" rx="37" ry="32" fill="#8676F6"/>
<text x="1462.8" y="1930" text-anchor="middle" style="fill:#fff">me1</text>
<ellipse cx="1572.8" cy="1919.7" rx="37" ry="32" fill="#8676F6"/>
<text x="1572.8" y="1930" text-anchor="middle" style="fill:#fff">me1</text>
<ellipse cx="1686.6" cy="1919.7" rx="37" ry="32" fill="#8676F6"/>
<text x="1686.6" y="1930" text-anchor="middle" style="fill:#fff">me1</text>
<path d="M1485.5,1712 C1486,1690 1500,1668 1525,1650 C1550,1632 1578,1625 1596,1625.5 C1610,1626 1617,1634 1617.5,1648 C1618,1665 1613,1680 1605,1685 C1595,1690 1578,1690 1565,1693 C1552,1696 1547,1705 1540,1720 C1535,1730 1525,1734 1514,1733.5 C1498,1733 1486,1726 1485.5,1712 Z" fill="#03B1B0" stroke="#2a6f70" stroke-width="0.8"/>
<path d="M1516,1733.5 C1528,1745 1535,1752 1527,1760 C1518,1768 1498,1770 1490,1788 C1482,1806 1486,1830 1492.5,1844" fill="none" stroke="#6B6B6B" stroke-width="3.5"/>
<path d="M1433,1873 C1431,1858 1443,1845 1465,1842 C1490,1839 1515,1852 1524,1872 C1529,1884 1527,1898 1521,1904 C1516,1910 1510,1909 1506,1904 C1498,1894 1488,1889 1475,1887 C1462,1885 1448,1888 1440,1888 C1435,1887 1433.5,1880 1433,1873 Z" fill="#03B1B0" stroke="#2a6f70" stroke-width="0.8"/>
<path d="M1774.6,1681.2 C1776.7,1681.7 1783.1,1681.2 1787.1,1684.1 C1791.1,1687 1795.4,1692.7 1798.8,1698.8 C1802.2,1704.9 1805.4,1712.3 1807.6,1720.9 C1809.8,1729.5 1811.6,1740.5 1812.1,1750.3 C1812.6,1760.1 1811.8,1770.4 1810.6,1779.7 C1809.4,1789 1807.2,1798.1 1804.7,1806.2 C1802.2,1814.3 1799.1,1822.3 1795.9,1828.2 C1792.7,1834.1 1789.5,1838.5 1785.6,1841.5 C1781.7,1844.5 1775.4,1845.5 1772.4,1845.9 C1769.5,1846.3 1768.7,1844.1 1767.9,1843.7 L1767.9,1843.7 C1768.2,1842.8 1767.7,1841.8 1769.4,1838.5 C1771.1,1835.2 1775.5,1828.7 1778.2,1823.8 C1780.9,1818.9 1783.6,1814.7 1785.6,1809.1 C1787.6,1803.5 1789.8,1795.4 1790,1790 C1790.2,1784.6 1789.1,1780.7 1787.1,1776.8 C1785.1,1772.9 1781.4,1770.2 1778.2,1766.5 C1775,1762.8 1771.6,1758.9 1767.9,1754.7 C1764.2,1750.5 1758.2,1743.7 1756.2,1741.5 L1756.2,1741.5 C1758.9,1743.5 1767.2,1749.5 1772.4,1753.2 C1777.6,1756.9 1783.2,1761.7 1787.1,1763.5 C1791,1765.3 1794.4,1764.2 1795.9,1764.3 L1795.9,1764.3 C1796.2,1762.7 1797.7,1759.7 1797.4,1754.7 C1797.2,1749.7 1796.1,1741.4 1794.4,1734.1 C1792.7,1726.8 1789.5,1717.2 1787.1,1710.6 C1784.6,1704 1781.8,1699.3 1779.7,1694.4 C1777.6,1689.5 1775.4,1683.4 1774.6,1681.2 Z" fill="#5CF50A" stroke="#4b7a2a" stroke-width="0.8"/>
<path d="M1774.6,1681 C1772.5,1680.3 1767.4,1676.6 1762.1,1676.8 C1756.8,1677 1749.5,1678.7 1742.9,1681.9 C1736.3,1685.1 1729,1690.1 1722.4,1695.9 C1715.8,1701.7 1708.9,1708.7 1703.2,1716.5 C1697.5,1724.3 1692.9,1733.6 1688.5,1742.9 C1684.1,1752.2 1679.4,1763.8 1676.8,1772.4 C1674.2,1781 1673.2,1787.8 1673.1,1794.4 C1673,1801 1674,1808.2 1676,1812.1 C1678,1816 1683.4,1816.9 1684.9,1817.9 L1684.9,1817.9 C1685.5,1817.2 1687.5,1817.4 1688.5,1813.5 C1689.5,1809.6 1689.7,1801.2 1690.7,1794.4 C1691.7,1787.6 1692.6,1778.3 1694.4,1772.4 C1696.2,1766.5 1698.6,1762.5 1701.8,1759.1 C1705,1755.7 1708.1,1753.8 1713.5,1751.8 C1718.9,1749.8 1727,1749.1 1734.1,1747.4 C1741.2,1745.7 1752.5,1742.5 1756.2,1741.5 L1756.2,1741.5 C1752.5,1741.5 1740.7,1741.5 1734.1,1741.3 C1727.5,1741 1720.4,1740.8 1716.5,1740 C1712.6,1739.2 1711.6,1736.9 1710.6,1736.3 L1710.6,1736.3 C1712.6,1734 1717,1726.9 1722.4,1722.4 C1727.8,1717.9 1734.2,1715.2 1742.9,1709.1 C1751.6,1703 1769.3,1689.8 1774.6,1686 Z" fill="#358F08" stroke="#2f5f12" stroke-width="0.8"/>
<path d="M1685.5,1815 C1690,1822 1696,1832 1702,1845" fill="none" stroke="#6B6B6B" stroke-width="3.3"/>
<path d="M1644,1873 C1643,1857 1660,1845 1685,1843 C1710,1841 1732,1852 1737.5,1870 C1740,1882 1738,1896 1732,1902 C1727,1906 1722,1904 1719,1900 C1712,1891 1702,1888 1690,1887 C1675,1886 1662,1890 1655,1894 C1650,1896 1645,1888 1644,1873 Z" fill="#358F08" stroke="#2f5f12" stroke-width="0.8"/>
<text x="1551.5" y="1611" >+HR</text>
<text x="1557.5" y="1727.5" >PDS5</text>
<text x="1648" y="1686" >MSH6</text>
<text x="1807" y="1670.8" >+MMR</text>
<text x="1695.5" y="1806.0">MutS&#945;</text>
<text x="1804" y="1843" >MSH2</text>
</svg>
</body></html>
